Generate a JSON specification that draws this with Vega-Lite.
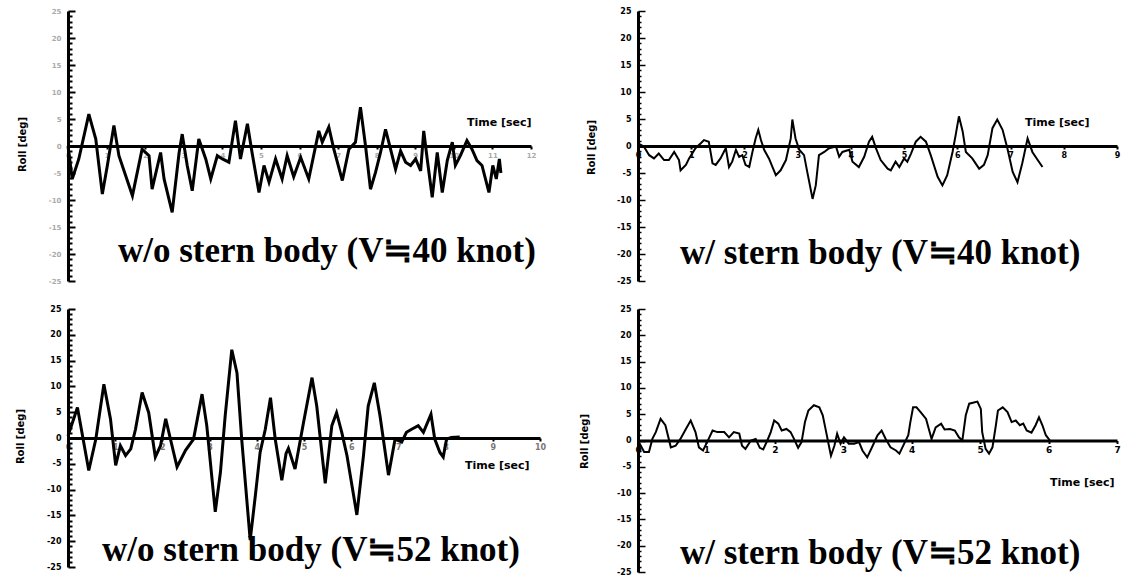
{
  "$schema": "https://vega.github.io/schema/vega-lite/v6.json",
  "background": "white",
  "padding": {"left": 15, "top": 7, "right": 5, "bottom": 5},
  "autosize": {"type": "pad"},
  "config": {
    "view": {"stroke": null},
    "axis": {"grid": false, "domainColor": "black", "tickColor": "black", "labelColor": "black", "titleColor": "black",
      "labelFont": "DejaVu Sans", "titleFont": "DejaVu Sans", "labelFontWeight": "bold", "titleFontWeight": "bold",
      "labelOverlap": false, "labelFlush": false, "labelBound": false},
    "title": {"font": "Liberation Serif", "fontSize": 35, "fontWeight": "bold", "color": "black", "orient": "bottom", "anchor": "start", "frame": "group", "baseline": "top"}
  },
  "datasets": {
    "p1": [
      {"t":0,"roll":0},{"t":0.11,"roll":-6.1},{"t":0.28,"roll":-2.4},{"t":0.54,"roll":5.9},{"t":0.72,"roll":1.3},{"t":0.89,"roll":-8.9},{"t":1.02,"roll":-3.6},{"t":1.19,"roll":3.8},{"t":1.32,"roll":-1.8},{"t":1.67,"roll":-9.2},{"t":1.92,"roll":-0.6},{"t":2.10,"roll":-1.8},{"t":2.18,"roll":-8.0},{"t":2.40,"roll":-1.2},{"t":2.49,"roll":-6.1},{"t":2.70,"roll":-12.3},{"t":2.88,"roll":-1.2},{"t":2.96,"roll":2.2},{"t":3.09,"roll":-3.6},{"t":3.22,"roll":-8.3},{"t":3.39,"roll":1.3},{"t":3.57,"roll":-2.4},{"t":3.70,"roll":-6.1},{"t":3.87,"roll":-1.8},{"t":4.00,"roll":-2.4},{"t":4.17,"roll":-3.0},{"t":4.34,"roll":4.7},{"t":4.47,"roll":-2.4},{"t":4.65,"roll":4.1},{"t":4.77,"roll":-1.2},{"t":4.95,"roll":-8.6},{"t":5.08,"roll":-3.6},{"t":5.21,"roll":-6.7},{"t":5.38,"roll":-2.4},{"t":5.55,"roll":-6.1},{"t":5.68,"roll":-1.8},{"t":5.85,"roll":-5.7},{"t":6.03,"roll":-2.1},{"t":6.24,"roll":-6.1},{"t":6.50,"roll":2.8},{"t":6.59,"roll":0.7},{"t":6.76,"roll":3.5},{"t":6.89,"roll":-0.6},{"t":7.11,"roll":-6.4},{"t":7.28,"roll":-0.6},{"t":7.45,"roll":0.7},{"t":7.58,"roll":7.2},{"t":7.71,"roll":0.1},{"t":7.84,"roll":-8.0},{"t":7.97,"roll":-4.9},{"t":8.10,"roll":-1.2},{"t":8.23,"roll":3.1},{"t":8.36,"roll":-0.6},{"t":8.49,"roll":-4.3},{"t":8.62,"roll":-0.9},{"t":8.75,"roll":-3.0},{"t":8.88,"roll":-3.6},{"t":9.01,"roll":-2.4},{"t":9.14,"roll":-4.6},{"t":9.22,"roll":2.8},{"t":9.31,"roll":-2.4},{"t":9.44,"roll":-9.5},{"t":9.57,"roll":-1.2},{"t":9.70,"roll":-8.6},{"t":9.83,"roll":-2.7},{"t":9.96,"roll":0.7},{"t":10.04,"roll":-3.6},{"t":10.17,"roll":-1.8},{"t":10.34,"roll":1.0},{"t":10.47,"roll":-0.6},{"t":10.60,"roll":-2.7},{"t":10.73,"roll":-3.6},{"t":10.91,"roll":-8.6},{"t":11.01,"roll":-3.6},{"t":11.10,"roll":-6.1},{"t":11.18,"roll":-2.4},{"t":11.22,"roll":-5.0}
    ],
    "p2": [
      {"t":0,"roll":0.5},{"t":0.11,"roll":-0.1},{"t":0.21,"roll":-1.7},{"t":0.30,"roll":-2.3},{"t":0.39,"roll":-1.4},{"t":0.49,"roll":-2.6},{"t":0.58,"roll":-2.6},{"t":0.68,"roll":-1.1},{"t":0.77,"roll":-2.6},{"t":0.80,"roll":-4.5},{"t":0.90,"roll":-3.5},{"t":0.96,"roll":-2.3},{"t":1.08,"roll":-0.4},{"t":1.18,"roll":0.5},{"t":1.24,"roll":1.1},{"t":1.33,"roll":0.8},{"t":1.40,"roll":-3.2},{"t":1.46,"roll":-3.5},{"t":1.55,"roll":-2.3},{"t":1.65,"roll":-0.4},{"t":1.71,"roll":-3.9},{"t":1.77,"roll":-2.9},{"t":1.84,"roll":-0.7},{"t":1.90,"roll":-2.0},{"t":1.96,"roll":-1.7},{"t":2.02,"roll":-3.5},{"t":2.09,"roll":-3.9},{"t":2.15,"roll":-1.1},{"t":2.21,"roll":1.4},{"t":2.26,"roll":3.0},{"t":2.31,"roll":1.1},{"t":2.37,"roll":-0.7},{"t":2.46,"roll":-2.3},{"t":2.59,"roll":-5.4},{"t":2.68,"roll":-4.5},{"t":2.78,"roll":-2.6},{"t":2.87,"roll":1.4},{"t":2.90,"roll":4.9},{"t":2.96,"roll":1.4},{"t":3.03,"roll":-0.7},{"t":3.12,"roll":-1.7},{"t":3.18,"roll":-4.8},{"t":3.28,"roll":-9.8},{"t":3.34,"roll":-7.3},{"t":3.40,"roll":-1.7},{"t":3.50,"roll":-1.1},{"t":3.59,"roll":-0.4},{"t":3.72,"roll":-0.1},{"t":3.78,"roll":-2.0},{"t":3.84,"roll":-1.1},{"t":3.97,"roll":-0.7},{"t":4.03,"roll":-2.9},{"t":4.15,"roll":-3.9},{"t":4.25,"roll":-2.0},{"t":4.34,"roll":0.8},{"t":4.40,"roll":1.7},{"t":4.47,"roll":-0.4},{"t":4.56,"roll":-2.6},{"t":4.69,"roll":-4.2},{"t":4.75,"roll":-4.5},{"t":4.84,"roll":-2.9},{"t":4.91,"roll":-3.9},{"t":5.00,"roll":-2.3},{"t":5.06,"roll":-2.9},{"t":5.13,"roll":-1.4},{"t":5.22,"roll":0.8},{"t":5.31,"roll":1.7},{"t":5.41,"roll":0.8},{"t":5.50,"roll":-1.7},{"t":5.63,"roll":-5.7},{"t":5.72,"roll":-7.3},{"t":5.81,"roll":-5.4},{"t":5.91,"roll":-1.1},{"t":5.97,"roll":2.1},{"t":6.03,"roll":5.5},{"t":6.10,"roll":2.7},{"t":6.16,"roll":-1.1},{"t":6.28,"roll":-2.3},{"t":6.41,"roll":-4.2},{"t":6.50,"roll":-3.5},{"t":6.57,"roll":-1.7},{"t":6.66,"roll":3.3},{"t":6.75,"roll":4.9},{"t":6.85,"roll":3.0},{"t":6.94,"roll":-0.4},{"t":7.04,"roll":-4.8},{"t":7.13,"roll":-6.7},{"t":7.22,"roll":-3.2},{"t":7.32,"roll":1.4},{"t":7.41,"roll":-1.1},{"t":7.51,"roll":-2.6},{"t":7.60,"roll":-3.9}
    ],
    "p3": [
      {"t":0,"roll":0.4},{"t":0.20,"roll":5.9},{"t":0.44,"roll":-6.3},{"t":0.59,"roll":-0.2},{"t":0.76,"roll":10.4},{"t":0.90,"roll":3.7},{"t":1.01,"roll":-5.3},{"t":1.11,"roll":-1.5},{"t":1.22,"roll":-3.4},{"t":1.33,"roll":-2.1},{"t":1.43,"roll":1.7},{"t":1.57,"roll":8.8},{"t":1.71,"roll":4.9},{"t":1.85,"roll":-3.7},{"t":1.96,"roll":-1.5},{"t":2.07,"roll":3.7},{"t":2.17,"roll":-0.2},{"t":2.31,"roll":-5.6},{"t":2.49,"roll":-2.4},{"t":2.66,"roll":-0.2},{"t":2.84,"roll":8.5},{"t":2.94,"roll":2.4},{"t":3.12,"roll":-14.3},{"t":3.23,"roll":-6.6},{"t":3.33,"roll":4.3},{"t":3.47,"roll":17.1},{"t":3.58,"roll":12.6},{"t":3.68,"roll":-0.2},{"t":3.86,"roll":-19.8},{"t":3.97,"roll":-11.1},{"t":4.07,"roll":-2.8},{"t":4.18,"roll":1.7},{"t":4.29,"roll":7.8},{"t":4.39,"roll":-0.2},{"t":4.53,"roll":-8.2},{"t":4.62,"roll":-3.0},{"t":4.67,"roll":-2.0},{"t":4.81,"roll":-6.0},{"t":4.99,"roll":3.0},{"t":5.17,"roll":11.7},{"t":5.27,"roll":6.2},{"t":5.45,"roll":-8.8},{"t":5.59,"roll":2.4},{"t":5.69,"roll":4.9},{"t":5.80,"roll":1.1},{"t":5.91,"roll":-3.4},{"t":6.12,"roll":-14.9},{"t":6.26,"roll":-3.4},{"t":6.36,"roll":6.2},{"t":6.49,"roll":10.7},{"t":6.61,"roll":4.3},{"t":6.79,"roll":-7.2},{"t":6.93,"roll":-0.2},{"t":7.07,"roll":-0.8},{"t":7.17,"roll":1.1},{"t":7.28,"roll":1.7},{"t":7.42,"roll":2.4},{"t":7.53,"roll":1.1},{"t":7.69,"roll":4.6},{"t":7.77,"roll":-0.2},{"t":7.88,"roll":-2.8},{"t":7.95,"roll":-3.7},{"t":8.02,"roll":-0.2},{"t":8.12,"roll":0.1},{"t":8.30,"roll":0.2}
    ],
    "p4": [
      {"t":0,"roll":0},{"t":0.09,"roll":-2.2},{"t":0.16,"roll":-2.2},{"t":0.21,"roll":0.3},{"t":0.26,"roll":1.6},{"t":0.33,"roll":4.1},{"t":0.40,"roll":2.9},{"t":0.48,"roll":-1.3},{"t":0.55,"roll":-1.0},{"t":0.62,"roll":0.3},{"t":0.70,"roll":2.2},{"t":0.77,"roll":3.8},{"t":0.84,"roll":1.6},{"t":0.89,"roll":-1.3},{"t":0.95,"roll":-1.9},{"t":1.01,"roll":-0.3},{"t":1.09,"roll":1.9},{"t":1.16,"roll":1.6},{"t":1.26,"roll":1.6},{"t":1.33,"roll":0.6},{"t":1.40,"roll":1.6},{"t":1.48,"roll":1.3},{"t":1.52,"roll":-1.0},{"t":1.57,"roll":-1.6},{"t":1.65,"roll":0},{"t":1.72,"roll":0.3},{"t":1.78,"roll":-1.4},{"t":1.83,"roll":-1.7},{"t":1.89,"roll":0},{"t":1.94,"roll":1.6},{"t":1.99,"roll":3.8},{"t":2.05,"roll":3.2},{"t":2.10,"roll":1.9},{"t":2.17,"roll":2.2},{"t":2.23,"roll":1.6},{"t":2.28,"roll":0.3},{"t":2.34,"roll":-1.4},{"t":2.39,"roll":-0.3},{"t":2.44,"roll":3.5},{"t":2.49,"roll":5.7},{"t":2.57,"roll":6.7},{"t":2.65,"roll":6.3},{"t":2.70,"roll":4.8},{"t":2.75,"roll":1.6},{"t":2.79,"roll":-1.0},{"t":2.82,"roll":-2.9},{"t":2.87,"roll":-1.0},{"t":2.91,"roll":1.3},{"t":2.96,"roll":-0.6},{"t":3.01,"roll":0.6},{"t":3.08,"roll":-0.6},{"t":3.16,"roll":-0.6},{"t":3.23,"roll":-0.3},{"t":3.28,"roll":-1.9},{"t":3.35,"roll":-3.2},{"t":3.43,"roll":-1.0},{"t":3.50,"roll":1.0},{"t":3.56,"roll":1.9},{"t":3.62,"roll":0.3},{"t":3.69,"roll":-1.3},{"t":3.77,"roll":-1.9},{"t":3.82,"roll":-2.5},{"t":3.89,"roll":-0.6},{"t":3.95,"roll":1.0},{"t":3.98,"roll":3.5},{"t":4.02,"roll":6.3},{"t":4.07,"roll":6.3},{"t":4.13,"roll":5.4},{"t":4.21,"roll":4.1},{"t":4.25,"roll":2.2},{"t":4.29,"roll":0.3},{"t":4.35,"roll":2.5},{"t":4.43,"roll":3.2},{"t":4.48,"roll":2.1},{"t":4.56,"roll":2.2},{"t":4.63,"roll":1.9},{"t":4.69,"roll":0.6},{"t":4.74,"roll":0},{"t":4.79,"roll":4.8},{"t":4.84,"roll":7.0},{"t":4.96,"roll":7.4},{"t":5.01,"roll":6.0},{"t":5.03,"roll":1.6},{"t":5.08,"roll":-1.6},{"t":5.13,"roll":-2.5},{"t":5.18,"roll":-1.3},{"t":5.23,"roll":2.9},{"t":5.26,"roll":5.7},{"t":5.33,"roll":6.3},{"t":5.40,"roll":5.4},{"t":5.46,"roll":3.5},{"t":5.52,"roll":3.8},{"t":5.58,"roll":2.9},{"t":5.63,"roll":3.2},{"t":5.68,"roll":1.9},{"t":5.75,"roll":1.5},{"t":5.81,"roll":2.9},{"t":5.86,"roll":4.4},{"t":5.91,"roll":2.9},{"t":5.96,"roll":1.0},{"t":6.02,"roll":0}
    ]
  },
  "columns": 2,
  "spacing": {"row": 28, "column": 98},
  "bounds": "flush",
  "concat": [
    {
      "width": 463, "height": 270,
      "data": {"name": "p1"},
      "title": {"text": "w/o stern body (V≒40 knot)", "offset": -50, "dx": 50},
      "mark": {"type": "line", "color": "black", "strokeWidth": 3},
      "encoding": {
        "x": {"field": "t", "type": "quantitative", "scale": {"domain": [0, 12], "nice": false, "zero": false},
          "axis": {"title": "Time [sec]", "offset": -135, "tickCount": 12, "domainWidth": 3, "tickSize": 3, "tickWidth": 2,
            "labelFontSize": 7, "labelColor": "#aaaaaa", "labelPadding": 2,
            "titleAnchor": "end", "titleAlign": "right", "titleBaseline": "middle", "titleX": 463, "titleY": -24, "titleFontSize": 11}},
        "y": {"field": "roll", "type": "quantitative", "scale": {"domain": [-25, 25], "nice": false},
          "axis": {"title": "Roll [deg]", "tickCount": 50, "domainWidth": 3, "tickWidth": 2,
            "tickSize": {"condition": {"test": "datum.value % 5 === 0", "value": -7}, "value": -4},
            "labelExpr": "datum.value % 5 === 0 ? '' + datum.value : ''", "labelFontSize": 7, "labelColor": "#aaaaaa", "labelPadding": 14,
            "titleX": -46, "titleY": 133, "titleAlign": "center", "titleBaseline": "middle", "titleFontSize": 10}}
      }
    },
    {
      "width": 479, "height": 270,
      "data": {"name": "p2"},
      "title": {"text": "w/ stern body (V≒40 knot)", "offset": -49, "dx": 42},
      "mark": {"type": "line", "color": "black", "strokeWidth": 2},
      "encoding": {
        "x": {"field": "t", "type": "quantitative", "scale": {"domain": [0, 9], "nice": false, "zero": false},
          "axis": {"title": "Time [sec]", "offset": -135, "tickCount": 9, "domainWidth": 3, "tickSize": 3, "tickWidth": 2,
            "labelFontSize": 8, "labelPadding": 2,
            "titleAnchor": "end", "titleAlign": "right", "titleBaseline": "middle", "titleX": 451, "titleY": -24, "titleFontSize": 11}},
        "y": {"field": "roll", "type": "quantitative", "scale": {"domain": [-25, 25], "nice": false},
          "axis": {"title": "Roll [deg]", "tickCount": 50, "domainWidth": 3, "tickWidth": 1.5,
            "tickSize": {"condition": {"test": "datum.value % 5 === 0", "value": -7}, "value": -3},
            "labelExpr": "datum.value % 5 === 0 ? '' + datum.value : ''", "labelFontSize": 8, "labelPadding": 14,
            "titleX": -47, "titleY": 136, "titleAlign": "center", "titleBaseline": "middle", "titleFontSize": 10}}
      }
    },
    {
      "width": 472, "height": 258,
      "data": {"name": "p3"},
      "title": {"text": "w/o stern body (V≒52 knot)", "offset": -38, "dx": 34},
      "mark": {"type": "line", "color": "black", "strokeWidth": 3},
      "encoding": {
        "x": {"field": "t", "type": "quantitative", "scale": {"domain": [0, 10], "nice": false, "zero": false},
          "axis": {"title": "Time [sec]", "offset": -129, "tickCount": 10, "domainWidth": 3, "tickSize": 3, "tickWidth": 2,
            "labelFontSize": 8, "labelColor": "#777777", "labelPadding": 2,
            "titleAnchor": "end", "titleAlign": "right", "titleBaseline": "middle", "titleX": 461, "titleY": 27, "titleFontSize": 11}},
        "y": {"field": "roll", "type": "quantitative", "scale": {"domain": [-25, 25], "nice": false},
          "axis": {"title": "Roll [deg]", "tickCount": 50, "domainWidth": 3, "tickWidth": 2,
            "tickSize": {"condition": {"test": "datum.value % 5 === 0", "value": -7}, "value": -4},
            "labelExpr": "datum.value % 5 === 0 ? '' + datum.value : ''", "labelFontSize": 8, "labelPadding": 14,
            "titleX": -48, "titleY": 127, "titleAlign": "center", "titleBaseline": "middle", "titleFontSize": 10}}
      }
    },
    {
      "width": 479, "height": 263,
      "data": {"name": "p4"},
      "title": {"text": "w/ stern  body (V≒52 knot)", "offset": -40, "dx": 42},
      "mark": {"type": "line", "color": "black", "strokeWidth": 2},
      "encoding": {
        "x": {"field": "t", "type": "quantitative", "scale": {"domain": [0, 7], "nice": false, "zero": false},
          "axis": {"title": "Time [sec]", "offset": -131.5, "tickCount": 7, "domainWidth": 3, "tickSize": 3, "tickWidth": 2,
            "labelFontSize": 9, "labelPadding": 2,
            "titleAnchor": "end", "titleAlign": "right", "titleBaseline": "middle", "titleX": 476, "titleY": 42, "titleFontSize": 11}},
        "y": {"field": "roll", "type": "quantitative", "scale": {"domain": [-25, 25], "nice": false},
          "axis": {"title": "Roll [deg]", "tickCount": 50, "domainWidth": 3, "tickWidth": 1.5,
            "tickSize": {"condition": {"test": "datum.value % 5 === 0", "value": -7}, "value": -3},
            "labelExpr": "datum.value % 5 === 0 ? '' + datum.value : ''", "labelFontSize": 8, "labelPadding": 14,
            "titleX": -54, "titleY": 132, "titleAlign": "center", "titleBaseline": "middle", "titleFontSize": 10}}
      }
    }
  ]
}
